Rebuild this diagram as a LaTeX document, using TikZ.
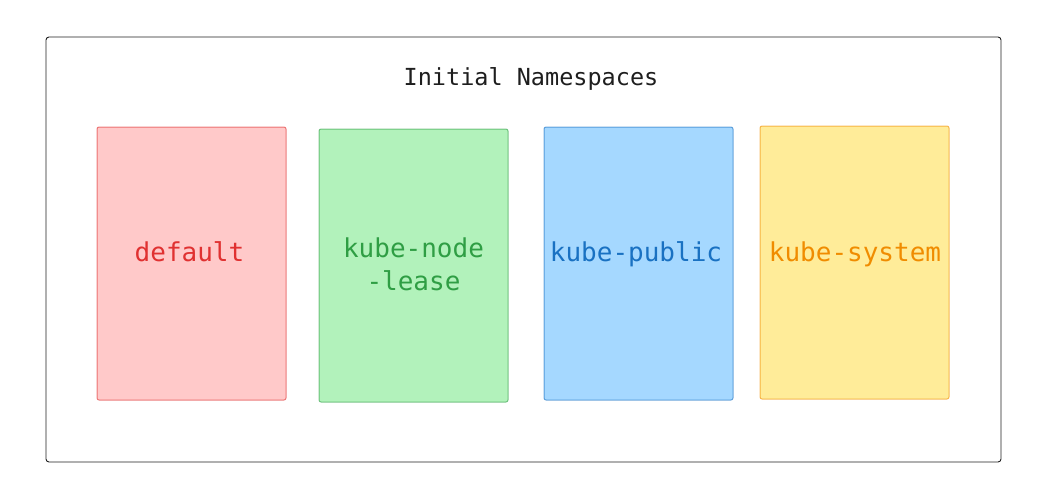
\documentclass[tikz,border=0pt]{standalone}
\usepackage{fontspec}
\setmonofont{DejaVu Sans Mono}
\definecolor{redfill}{HTML}{FFC9C9}\definecolor{redline}{HTML}{E03131}
\definecolor{grnfill}{HTML}{B2F2BB}\definecolor{grnline}{HTML}{2F9E44}
\definecolor{blufill}{HTML}{A5D8FF}\definecolor{bluline}{HTML}{1971C2}
\definecolor{ylwfill}{HTML}{FFEC99}\definecolor{ylwline}{HTML}{F08C00}
\definecolor{ink}{HTML}{1E1E1E}
\tikzset{
  nsbox/.style={draw opacity=0.6, line width=1pt, rounded corners=2pt},
  lbl/.style={font=\ttfamily\fontsize{26}{33}\selectfont, align=center, inner sep=0pt},
}
\begin{document}
\begin{tikzpicture}[x=1pt,y=-1pt]
\useasboundingbox (0,0) rectangle (1053,499);
\draw[ink, line width=0.9pt, rounded corners=3pt] (46,37) rectangle (1001,462);
\node[font=\ttfamily\fontsize{23.5}{28}\selectfont, text=ink, inner sep=0pt] (title) at (531,79) {Initial Namespaces};
\draw[nsbox, fill=redfill, draw=redline] (97,127) rectangle (286,400);
\draw[nsbox, fill=grnfill, draw=grnline] (319,129) rectangle (508,402);
\draw[nsbox, fill=blufill, draw=bluline] (544,127) rectangle (733,400);
\draw[nsbox, fill=ylwfill, draw=ylwline] (760,126) rectangle (949,399);
\node[lbl, text=redline] (default) at (189.5,252) {default};
\node[lbl, text=grnline] (lease) at (413.5,264.5) {kube-node\\-lease};
\node[lbl, text=bluline] (public) at (636,254) {kube-public};
\node[lbl, text=ylwline] (system) at (855,254) {kube-system};
\end{tikzpicture}
\end{document}
